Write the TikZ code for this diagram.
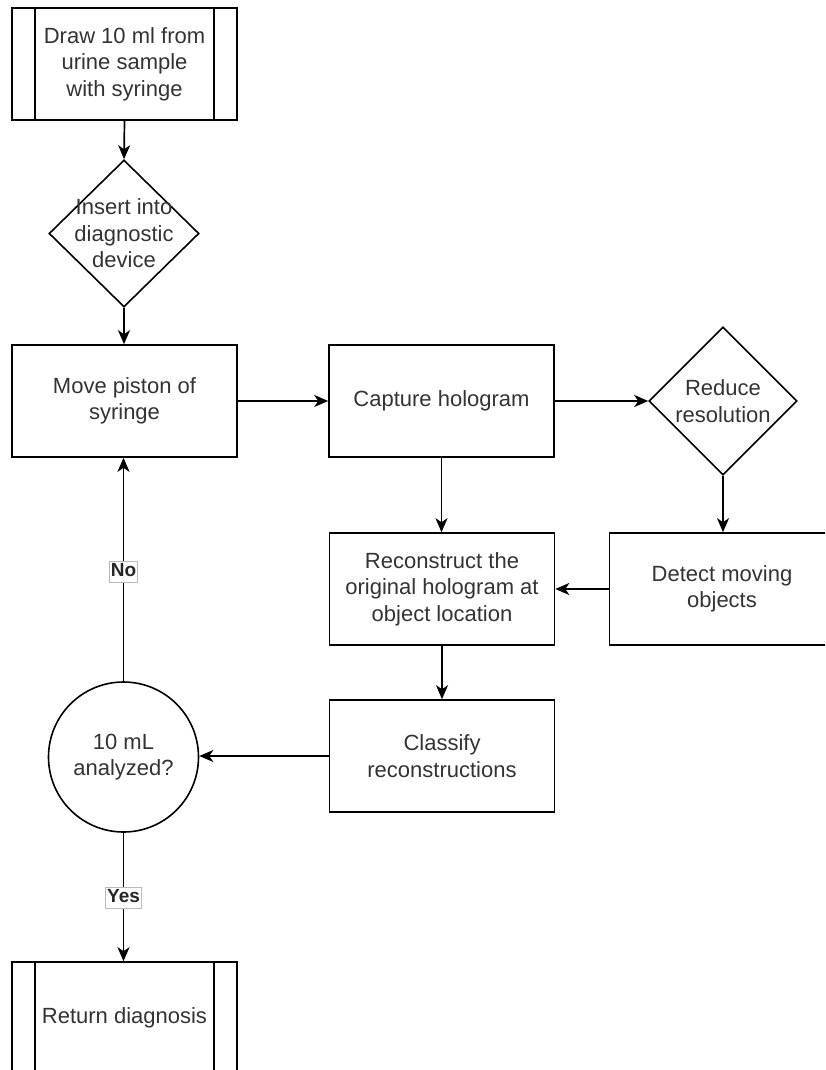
\documentclass[tikz,border=0pt]{standalone}
\usepackage{fontspec}
\setmainfont{Liberation Sans}
\usetikzlibrary{shapes.geometric,arrows.meta,calc}
\definecolor{txtgray}{HTML}{333333}
\definecolor{lblborder}{HTML}{BBBBBB}
\begin{document}
\begin{tikzpicture}[x=1pt,y=-1pt,
  every node/.style={font=\fontsize{22}{26.5}\selectfont, text=txtgray, align=center},
  proc/.style={draw=black, line width=1.6pt, rectangle, minimum width=225pt, minimum height=112pt, inner sep=0pt},
  subproc/.style={proc, path picture={
      \draw[line width=1.6pt] ([xshift=23pt]path picture bounding box.north west) -- ([xshift=23pt]path picture bounding box.south west);
      \draw[line width=1.6pt] ([xshift=-23pt]path picture bounding box.north east) -- ([xshift=-23pt]path picture bounding box.south east);}},
  dia/.style={draw=black, line width=1.6pt, diamond, inner sep=0pt},
  chkcircle/.style={draw=black, line width=1.6pt, circle, minimum size=150pt, inner sep=0pt},
  plain/.style={inner sep=0pt},
  arr/.style={draw=black, line width=1.7pt, -{Stealth[length=14pt,width=12pt,inset=4pt]}},
  lbl/.style={font=\fontsize{19}{21}\selectfont\bfseries, text=black!85, fill=white, draw=lblborder, line width=0.8pt, inner xsep=1.5pt, inner ysep=0pt, text height=15pt, text depth=6pt}
]
\useasboundingbox (0,0) rectangle (825,1070);
\clip (0,0) rectangle (825,1070);

% nodes
\node[subproc] (b1) at (124.5,64) {Draw 10 ml from\\urine sample\\with syringe};
\node[dia, minimum width=150pt, minimum height=147pt] (d1) at (124,233.5) {};
\node[plain] (d1t) at (d1.center) {Insert into\\diagnostic\\device};
\node[proc] (mv) at (124.5,401) {Move piston of\\syringe};
\node[proc] (cap) at (441.5,401) {Capture hologram};
\node[dia, minimum width=148pt, minimum height=148pt] (red) at (723,401) {};
\node[plain] (redt) at (red.center) {Reduce\\resolution};
\node[proc] (rec) at (442,589) {Reconstruct the\\original hologram at\\object location};
\node[proc] (det) at (722,589) {Detect moving\\objects};
\node[proc] (cls) at (442,756) {Classify\\reconstructions};
\node[chkcircle] (chk) at (123.5,757) {};
\node[plain] (chkt) at (chk.center) {10 mL\\analyzed?};
\node[subproc] (ret) at (124.5,1018) {Return diagnosis};

% connectors
\draw[arr] (b1.south) -- (d1.north);
\draw[arr] (d1.south) -- (d1.south |- mv.north);
\draw[arr] (mv.east) -- (cap.west);
\draw[arr] (cap.east) -- (red.west);
\draw[arr] (red.south) -- (red.south |- det.north);
\draw[arr] (cap.south) -- (cap.south |- rec.north);
\draw[arr] (det.west) -- (det.west -| rec.east);
\draw[arr] (rec.south) -- (cls.north);
\draw[arr] (cls.west) -- (cls.west -| chk.east);
\draw[arr] (chk.north) -- node[lbl, pos=0.49] (nolbl) {No} (chk.north |- mv.south);
\draw[arr] (chk.south) -- node[lbl, pos=0.51] (yeslbl) {Yes} (chk.south |- ret.north);
\end{tikzpicture}
\end{document}
